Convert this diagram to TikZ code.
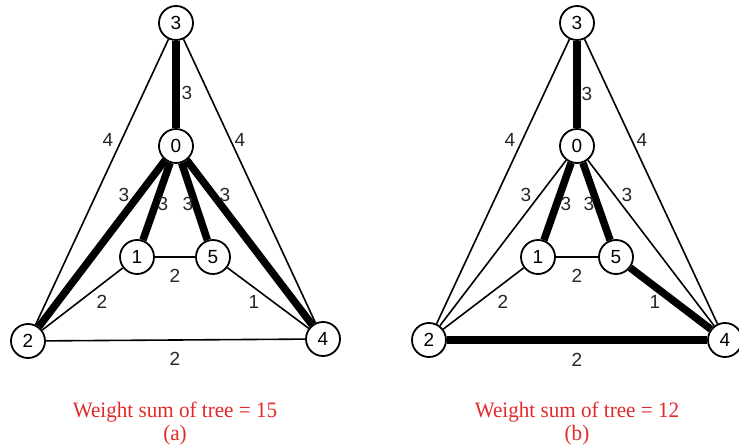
\documentclass[tikz,border=0pt]{standalone}
\usepackage{fontspec}
\setmainfont{Liberation Serif}
\setsansfont{Liberation Sans}
\usetikzlibrary{positioning, backgrounds}
\definecolor{capred}{RGB}{228,40,40}

\begin{document}
\begin{tikzpicture}[
						x=1pt, y=-1pt,
						vertex/.style={circle, draw, fill=white, line width=1.8pt, minimum size=34pt, inner sep=0pt, font=\sffamily\fontsize{19}{19}\selectfont},
						thinedge/.style={draw, line width=1.6pt},
						treeedge/.style={draw, line width=7.5pt},
						wlabel/.style={font=\sffamily\fontsize{19}{19}\selectfont, text=black!85, inner sep=0pt},
						caption/.style={anchor=base, text=capred, font=\fontsize{22}{22}\selectfont, xscale=0.96}
						]
						\useasboundingbox (0,0) rectangle (739,446);
						
						% graph (a)
						\node [vertex] (a3) at (176,23) {3};
						\node [vertex] (a0) at (176,146) {0};
						\node [vertex] (a1) at (137,257) {1};
						\node [vertex] (a5) at (213,257) {5};
						\node [vertex] (a2) at (28,341) {2};
						\node [vertex] (a4) at (323,339) {4};
						
						\begin{scope}[on background layer]
							\draw [thinedge] (a3) -- (a2);
							\draw [thinedge] (a3) -- (a4);
							\draw [thinedge] (a1) -- (a5);
							\draw [thinedge] (a1) -- (a2);
							\draw [thinedge] (a5) -- (a4);
							\draw [thinedge] (a2) -- (a4);
							\draw [treeedge] (a3) -- (a0);
							\draw [treeedge] (a0) -- (a2);
							\draw [treeedge] (a0) -- (a1);
							\draw [treeedge] (a0) -- (a5);
							\draw [treeedge] (a0) -- (a4);
						\end{scope}
						
						\node [wlabel] (wa30) at (187,93) {3};
						\node [wlabel] (wa32) at (108,140) {4};
						\node [wlabel] (wa34) at (240,140) {4};
						\node [wlabel] (wa02) at (124,195) {3};
						\node [wlabel] (wa01) at (163,204) {3};
						\node [wlabel] (wa05) at (188,204) {3};
						\node [wlabel] (wa04) at (225,195) {3};
						\node [wlabel] (wa15) at (175,276) {2};
						\node [wlabel] (wa12) at (102,302) {2};
						\node [wlabel] (wa54) at (254,302) {1};
						\node [wlabel] (wa24) at (175,359) {2};
						
						\node [caption] (capa) at (175,417) {Weight sum of tree = 15};
						\node [caption] (suba) at (175,440) {(a)};
						
						% graph (b)
						\node [vertex] (b3) at (577,23) {3};
						\node [vertex] (b0) at (577,146) {0};
						\node [vertex] (b1) at (538,257) {1};
						\node [vertex] (b5) at (616,257) {5};
						\node [vertex] (b2) at (429,340) {2};
						\node [vertex] (b4) at (725,340) {4};
						
						\begin{scope}[on background layer]
							\draw [thinedge] (b3) -- (b2);
							\draw [thinedge] (b3) -- (b4);
							\draw [thinedge] (b0) -- (b2);
							\draw [thinedge] (b0) -- (b4);
							\draw [thinedge] (b1) -- (b5);
							\draw [thinedge] (b1) -- (b2);
							\draw [treeedge] (b3) -- (b0);
							\draw [treeedge] (b0) -- (b1);
							\draw [treeedge] (b0) -- (b5);
							\draw [treeedge] (b5) -- (b4);
							\draw [treeedge] (b2) -- (b4);
						\end{scope}
						
						\node [wlabel] (wb30) at (587,94) {3};
						\node [wlabel] (wb32) at (510,140) {4};
						\node [wlabel] (wb34) at (642,140) {4};
						\node [wlabel] (wb02) at (526,195) {3};
						\node [wlabel] (wb01) at (566,204) {3};
						\node [wlabel] (wb05) at (589,204) {3};
						\node [wlabel] (wb04) at (627,195) {3};
						\node [wlabel] (wb15) at (577,276) {2};
						\node [wlabel] (wb12) at (503,302) {2};
						\node [wlabel] (wb54) at (655,302) {1};
						\node [wlabel] (wb24) at (577,360) {2};
						
						\node [caption] (capb) at (577,417) {Weight sum of tree = 12};
						\node [caption] (subb) at (577,440) {(b)};
					\end{tikzpicture}
\end{document}
